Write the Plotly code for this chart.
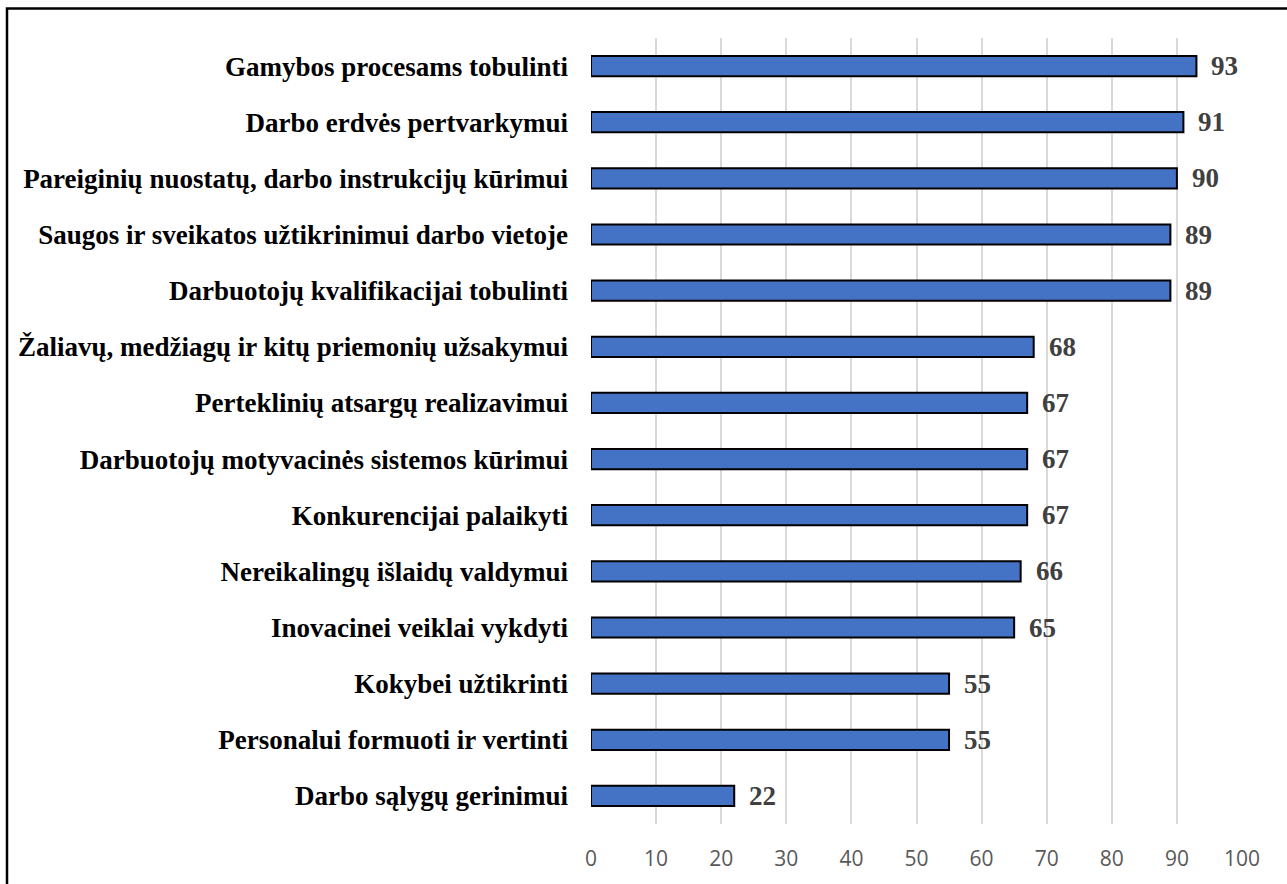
import plotly.graph_objects as go

categories = [
    "Gamybos procesams tobulinti",
    "Darbo erdvės pertvarkymui",
    "Pareiginių nuostatų, darbo instrukcijų kūrimui",
    "Saugos ir sveikatos užtikrinimui darbo vietoje",
    "Darbuotojų kvalifikacijai tobulinti",
    "Žaliavų, medžiagų ir kitų priemonių užsakymui",
    "Perteklinių atsargų realizavimui",
    "Darbuotojų motyvacinės sistemos kūrimui",
    "Konkurencijai palaikyti",
    "Nereikalingų išlaidų valdymui",
    "Inovacinei veiklai vykdyti",
    "Kokybei užtikrinti",
    "Personalui formuoti ir vertinti",
    "Darbo sąlygų gerinimui",
]
values = [93, 91, 90, 89, 89, 68, 67, 67, 67, 66, 65, 55, 55, 22]
x_ticks = [0, 10, 20, 30, 40, 50, 60, 70, 80, 90, 100]

fig = go.Figure()
fig.add_trace(go.Bar(
    x=values, y=categories, orientation="h",
    marker=dict(color="#4472C4", line=dict(color="#000000", width=2)),
    width=0.36,
))

for c, v in zip(categories, values):
    fig.add_annotation(x=v, y=c, text=f"<b>{v}</b>", showarrow=False,
                       xanchor="left", xshift=13,
                       font=dict(family="Liberation Serif", size=27, color="#404040"))

fig.add_shape(type="rect", xref="paper", yref="paper",
              x0=-591/651 + 7/651, x1=1.1, y0=-0.2, y1=1 + 29.5/788,
              line=dict(color="#000000", width=2.5), layer="above")

fig.update_layout(
    width=1287, height=884,
    margin=dict(l=591, r=45, t=38, b=58),
    paper_bgcolor="white", plot_bgcolor="white",
    showlegend=False,
    xaxis=dict(range=[0, 100], tickvals=x_ticks, showgrid=True,
               gridcolor="#d9d9d9", gridwidth=1.5, zeroline=False,
               showline=False, ticks="",
               tickfont=dict(family="Open Sans", size=21, color="#595959"),
               ticklabelstandoff=20),
    yaxis=dict(autorange="reversed", showgrid=False, showline=False,
               ticks="", ticklabelstandoff=22,
               tickfont=dict(family="Liberation Serif", size=27, color="#000000"),
               tickprefix="<b>", ticksuffix="</b>"),
)

fig.write_html("out.html")
